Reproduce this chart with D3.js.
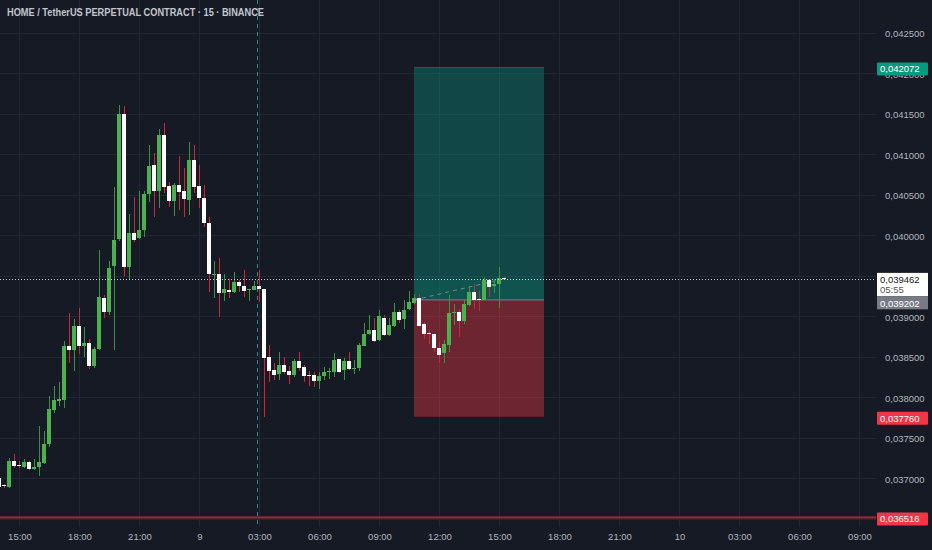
<!DOCTYPE html>
<html><head><meta charset="utf-8">
<script src="https://cdn.jsdelivr.net/npm/d3@7"></script>
<style>html,body{margin:0;padding:0;background:#161a25;overflow:hidden}svg{display:block}</style>
</head><body><svg id="c" width="932" height="550"></svg>
<script>
// ---------- DATA ----------
const title = "HOME / TetherUS PERPETUAL CONTRACT · 15 · BINANCE";
const firstBarTime = "2024-06-08T14:00:00Z"; // 15-minute bars
const barMinutes = 15;
const opens = [0.037000,0.036914,0.036893,0.037213,0.037165,0.037139,0.037197,0.037111,0.037139,0.037188,0.037419,0.037847,0.037953,0.037962,0.038628,0.038578,0.038878,0.038628,0.038668,0.038381,0.038591,0.039232,0.039051,0.039618,0.039956,0.041497,0.039614,0.040025,0.039963,0.040071,0.040511,0.040872,0.040552,0.041238,0.040605,0.040420,0.040617,0.040552,0.040437,0.040930,0.040613,0.040457,0.040153,0.039512,0.039524,0.039285,0.039327,0.039294,0.039429,0.039380,0.039327,0.039327,0.039380,0.039339,0.038496,0.038332,0.038282,0.038393,0.038323,0.038270,0.038446,0.038373,0.038273,0.038270,0.038200,0.038258,0.038307,0.038307,0.038467,0.038332,0.038446,0.038348,0.038365,0.038631,0.038776,0.038834,0.038702,0.038982,0.038763,0.038878,0.039051,0.038961,0.039084,0.039162,0.039228,0.038908,0.038800,0.038776,0.038612,0.038545,0.038649,0.039038,0.039059,0.038936,0.039142,0.039306,0.039216,0.039207,0.039442,0.039368,0.039401,0.039475];
const highs = [0.037025,0.036926,0.037247,0.037296,0.037213,0.037234,0.037213,0.037234,0.037645,0.037583,0.038011,0.038134,0.038187,0.038693,0.039038,0.038961,0.039100,0.038862,0.038714,0.038615,0.039824,0.039269,0.039680,0.040592,0.041612,0.041600,0.040264,0.040478,0.040552,0.040552,0.041115,0.041011,0.041312,0.041386,0.040654,0.040642,0.040983,0.040831,0.041156,0.041119,0.040872,0.040626,0.040231,0.039688,0.039719,0.039524,0.039463,0.039553,0.039450,0.039574,0.039343,0.039433,0.039574,0.039343,0.038640,0.038422,0.038557,0.038496,0.038381,0.038467,0.038557,0.038393,0.038323,0.038311,0.038311,0.038373,0.038365,0.038545,0.038473,0.038488,0.038557,0.038455,0.038665,0.038915,0.039022,0.038982,0.039072,0.039010,0.038982,0.039167,0.039080,0.039204,0.039318,0.039278,0.039278,0.038925,0.038837,0.038790,0.038681,0.038702,0.039257,0.039154,0.039093,0.039216,0.039368,0.039401,0.039318,0.039482,0.039463,0.039463,0.039606,0.039490];
const lows = [0.036864,0.036877,0.036877,0.037123,0.037123,0.037130,0.037105,0.037099,0.037028,0.037180,0.037382,0.037805,0.037888,0.037863,0.038422,0.038323,0.038538,0.038496,0.038344,0.038360,0.038580,0.038977,0.039022,0.038587,0.039935,0.039503,0.039463,0.039914,0.039950,0.039976,0.040407,0.040222,0.040338,0.040523,0.040354,0.040235,0.040314,0.040231,0.040256,0.040518,0.040333,0.040099,0.039297,0.039228,0.038989,0.039189,0.039228,0.039290,0.039297,0.039244,0.039195,0.039320,0.039174,0.037756,0.038187,0.038217,0.038217,0.038282,0.038159,0.038249,0.038323,0.038187,0.038134,0.038126,0.038106,0.038217,0.038229,0.038249,0.038298,0.038217,0.038332,0.038282,0.038323,0.038628,0.038770,0.038681,0.038693,0.038751,0.038755,0.038866,0.038920,0.038846,0.039072,0.039150,0.038866,0.038714,0.038652,0.038557,0.038427,0.038422,0.038557,0.038887,0.038742,0.038908,0.039133,0.039084,0.039063,0.039204,0.039244,0.039285,0.039105,0.039455];
const closes = [0.036889,0.036902,0.037213,0.037152,0.037160,0.037201,0.037111,0.037139,0.037197,0.037419,0.037859,0.037962,0.037974,0.038628,0.038578,0.038878,0.038628,0.038668,0.038381,0.038591,0.039236,0.039051,0.039602,0.039947,0.041497,0.039606,0.040025,0.039947,0.040071,0.040511,0.040860,0.040543,0.041238,0.040601,0.040420,0.040617,0.040539,0.040444,0.040930,0.040601,0.040457,0.040148,0.039519,0.039524,0.039285,0.039343,0.039294,0.039429,0.039368,0.039318,0.039339,0.039380,0.039339,0.038488,0.038323,0.038270,0.038393,0.038311,0.038270,0.038446,0.038365,0.038261,0.038266,0.038200,0.038258,0.038307,0.038323,0.038455,0.038311,0.038446,0.038344,0.038365,0.038640,0.038784,0.038834,0.038693,0.038998,0.038763,0.038887,0.039051,0.038957,0.039080,0.039174,0.039228,0.038878,0.038776,0.038776,0.038612,0.038525,0.038661,0.039043,0.039051,0.038936,0.039154,0.039306,0.039204,0.039207,0.039442,0.039359,0.039401,0.039470,0.039462];

const priceTicks = [0.0365,0.0370,0.0375,0.0380,0.0385,0.0390,0.0395,0.0400,0.0405,0.0410,0.0415,0.0420,0.0425];
const hiddenTickLabels = [0.0365,0.0395]; // covered by price tags in the reference
const timeTicks = ["2024-06-08T15:00:00Z","2024-06-08T18:00:00Z","2024-06-08T21:00:00Z","2024-06-09T00:00:00Z","2024-06-09T03:00:00Z","2024-06-09T06:00:00Z","2024-06-09T09:00:00Z","2024-06-09T12:00:00Z","2024-06-09T15:00:00Z","2024-06-09T18:00:00Z","2024-06-09T21:00:00Z","2024-06-10T00:00:00Z","2024-06-10T03:00:00Z","2024-06-10T06:00:00Z","2024-06-10T09:00:00Z"];

const lastPrice = 0.039462;
const countdown = "05:55";
const targetPrice = 0.042072;
const entryPrice = 0.039202;
const stopPrice = 0.037760;
const positionStart = "2024-06-09T10:45:00Z";
const positionEnd = "2024-06-09T17:15:00Z";
const alertLinePrice = 0.036516;
const sessionLineTime = "2024-06-09T02:52:30Z";

// ---------- LAYOUT ----------
const W = 932, H = 550, plotW = 876, plotH = 527;
const svg = d3.select("#c");
const font = "'Liberation Sans', Arial, sans-serif";
const t0 = new Date(firstBarTime);
const bars = opens.map((o, i) => ({t: new Date(t0.getTime() + i*barMinutes*60000), o, h: highs[i], l: lows[i], c: closes[i]}));

const x = d3.scaleUtc()
  .domain([new Date("2024-06-08T14:15:00Z"), new Date("2024-06-09T15:15:00Z")])
  .range([4, 504]);
const y = d3.scaleLinear().domain([0.037, 0.0425]).range([478.3, 32.8]);

svg.append("rect").attr("width", W).attr("height", H).attr("fill", "#161a25");

const defs = svg.append("defs");
defs.append("clipPath").attr("id", "plot").append("rect").attr("width", plotW).attr("height", plotH);
const plot = svg.append("g").attr("clip-path", "url(#plot)");

// grid
const gridC = "#232733";
plot.append("g").selectAll("line").data(timeTicks.map(d => new Date(d))).join("line")
  .attr("x1", d => Math.round(x(d)) + 0.5).attr("x2", d => Math.round(x(d)) + 0.5)
  .attr("y1", 0).attr("y2", plotH).attr("stroke", gridC);
plot.append("g").selectAll("line").data(priceTicks).join("line")
  .attr("x1", 0).attr("x2", plotW)
  .attr("y1", d => Math.round(y(d)) + 0.5).attr("y2", d => Math.round(y(d)) + 0.5).attr("stroke", gridC);

// position tool
const px0 = x(new Date(positionStart)), px1 = x(new Date(positionEnd));
plot.append("rect").attr("x", px0).attr("width", px1 - px0)
  .attr("y", y(targetPrice)).attr("height", y(entryPrice) - y(targetPrice))
  .attr("fill", "rgba(8,153,129,0.36)");
plot.append("rect").attr("x", px0).attr("width", px1 - px0)
  .attr("y", y(lastPrice)).attr("height", y(entryPrice) - y(lastPrice))
  .attr("fill", "rgba(8,153,129,0.16)");
plot.append("rect").attr("x", px0).attr("width", px1 - px0)
  .attr("y", y(entryPrice)).attr("height", y(stopPrice) - y(entryPrice))
  .attr("fill", "rgba(242,54,69,0.40)");
plot.append("line").attr("x1", px0).attr("x2", px1)
  .attr("y1", y(targetPrice)).attr("y2", y(targetPrice)).attr("stroke", "rgba(8,153,129,0.5)");
plot.append("line").attr("x1", px0).attr("x2", px1)
  .attr("y1", y(entryPrice)).attr("y2", y(entryPrice)).attr("stroke", "#6f7380").attr("stroke-width", 1.2);
// entry -> current dashed connector
const lastBar = bars[bars.length - 1];
plot.append("line").attr("x1", px0).attr("y1", y(entryPrice))
  .attr("x2", x(lastBar.t)).attr("y2", y(lastPrice))
  .attr("stroke", "rgba(150,158,165,0.7)").attr("stroke-dasharray", "4,4");

// alert line
plot.append("line").attr("x1", 0).attr("x2", plotW)
  .attr("y1", y(alertLinePrice)).attr("y2", y(alertLinePrice))
  .attr("stroke", "#a3293a").attr("stroke-width", 2);

// session dashed line
const sx = Math.round(x(new Date(sessionLineTime))) + 0.5;
plot.append("line").attr("x1", sx).attr("x2", sx).attr("y1", 0).attr("y2", plotH)
  .attr("stroke", "#3f8284").attr("stroke-dasharray", "4,4");

// candles
const up = d => d.c >= d.o;
const cg = plot.append("g").attr("shape-rendering", "crispEdges");
cg.selectAll("rect.w").data(bars).join("rect").attr("class", "w")
  .attr("x", d => Math.round(x(d.t))).attr("width", 1)
  .attr("y", d => y(d.h)).attr("height", d => Math.max(1, y(d.l) - y(d.h)))
  .attr("fill", d => up(d) ? "#3a9140" : "#c8283c");
cg.selectAll("rect.b").data(bars).join("rect").attr("class", "b")
  .attr("x", d => Math.round(x(d.t)) - 2).attr("width", 4)
  .attr("y", d => y(Math.max(d.o, d.c)))
  .attr("height", d => Math.max(1, Math.abs(y(d.o) - y(d.c))))
  .attr("fill", d => up(d) ? "#4caf50" : "#ffffff");

// current price dotted line
plot.append("line").attr("x1", 0).attr("x2", plotW)
  .attr("y1", Math.round(y(lastPrice)) + 0.5).attr("y2", Math.round(y(lastPrice)) + 0.5)
  .attr("stroke", "#c9ccd3").attr("stroke-dasharray", "1,2");

// ---------- AXES ----------
const fmtP = d => d.toFixed(6).replace(".", ",");
const yAxis = d3.axisRight(y).tickValues(priceTicks.filter(p => !hiddenTickLabels.includes(p)))
  .tickFormat(fmtP).tickSize(0).tickPadding(0);
const ya = svg.append("g").attr("transform", "translate(885,0.5)").call(yAxis);
ya.select(".domain").remove();
ya.selectAll("text").attr("fill", "#b2b5be").style("font", "9.5px " + font).attr("dy", "0.35em");

const fmtT = d => d.getUTCHours() === 0 && d.getUTCMinutes() === 0 ? String(d.getUTCDate()) : d3.utcFormat("%H:%M")(d);
const xAxis = d3.axisBottom(x).tickValues(timeTicks.map(d => new Date(d))).tickFormat(fmtT).tickSize(0).tickPadding(0);
const xa = svg.append("g").attr("transform", "translate(0.5,533)").call(xAxis);
xa.select(".domain").remove();
xa.selectAll("text").attr("fill", "#b2b5be").style("font", "9.5px " + font);

// price tags
function tag(price, bg, fg, text) {
  const cy = y(price);
  const g = svg.append("g");
  g.append("rect").attr("x", 877).attr("y", cy - 5).attr("width", 51).attr("height", 13).attr("rx", 1).attr("fill", bg);
  g.append("text").attr("x", 880).attr("y", cy + 1.5).attr("dy", "0.35em")
    .attr("fill", fg).style("font", "9.5px " + font).text(text);
  return g;
}
tag(targetPrice, "#089981", "#ffffff", fmtP(targetPrice));
tag(stopPrice, "#f23645", "#ffffff", fmtP(stopPrice));
tag(alertLinePrice, "#f23645", "#ffffff", fmtP(alertLinePrice));
// current price (white, two lines)
{
  const cy = y(lastPrice);
  svg.append("rect").attr("x", 877).attr("y", cy - 6).attr("width", 51).attr("height", 23.5).attr("fill", "#ffffff");
  svg.append("text").attr("x", 880).attr("y", cy + 0.5).attr("dy", "0.35em").attr("fill", "#131722")
    .style("font", "9.5px " + font).text(fmtP(lastPrice));
  svg.append("text").attr("x", 880).attr("y", cy + 11).attr("dy", "0.35em").attr("fill", "#50535e")
    .style("font", "9.5px " + font).text(countdown);
}
// entry tag
{
  const cy = y(entryPrice);
  svg.append("rect").attr("x", 877).attr("y", cy - 3.2).attr("width", 51).attr("height", 12.6).attr("fill", "#787b86");
  svg.append("text").attr("x", 880).attr("y", cy + 3.3).attr("dy", "0.35em").attr("fill", "#ffffff")
    .style("font", "9.5px " + font).text(fmtP(entryPrice));
}

// title
svg.append("text").attr("x", 7).attr("y", 16).attr("fill", "#c3c6ce")
  .attr("textLength", 257).attr("lengthAdjust", "spacingAndGlyphs")
  .style("font", "600 10px " + font).text(title);
</script></body></html>
